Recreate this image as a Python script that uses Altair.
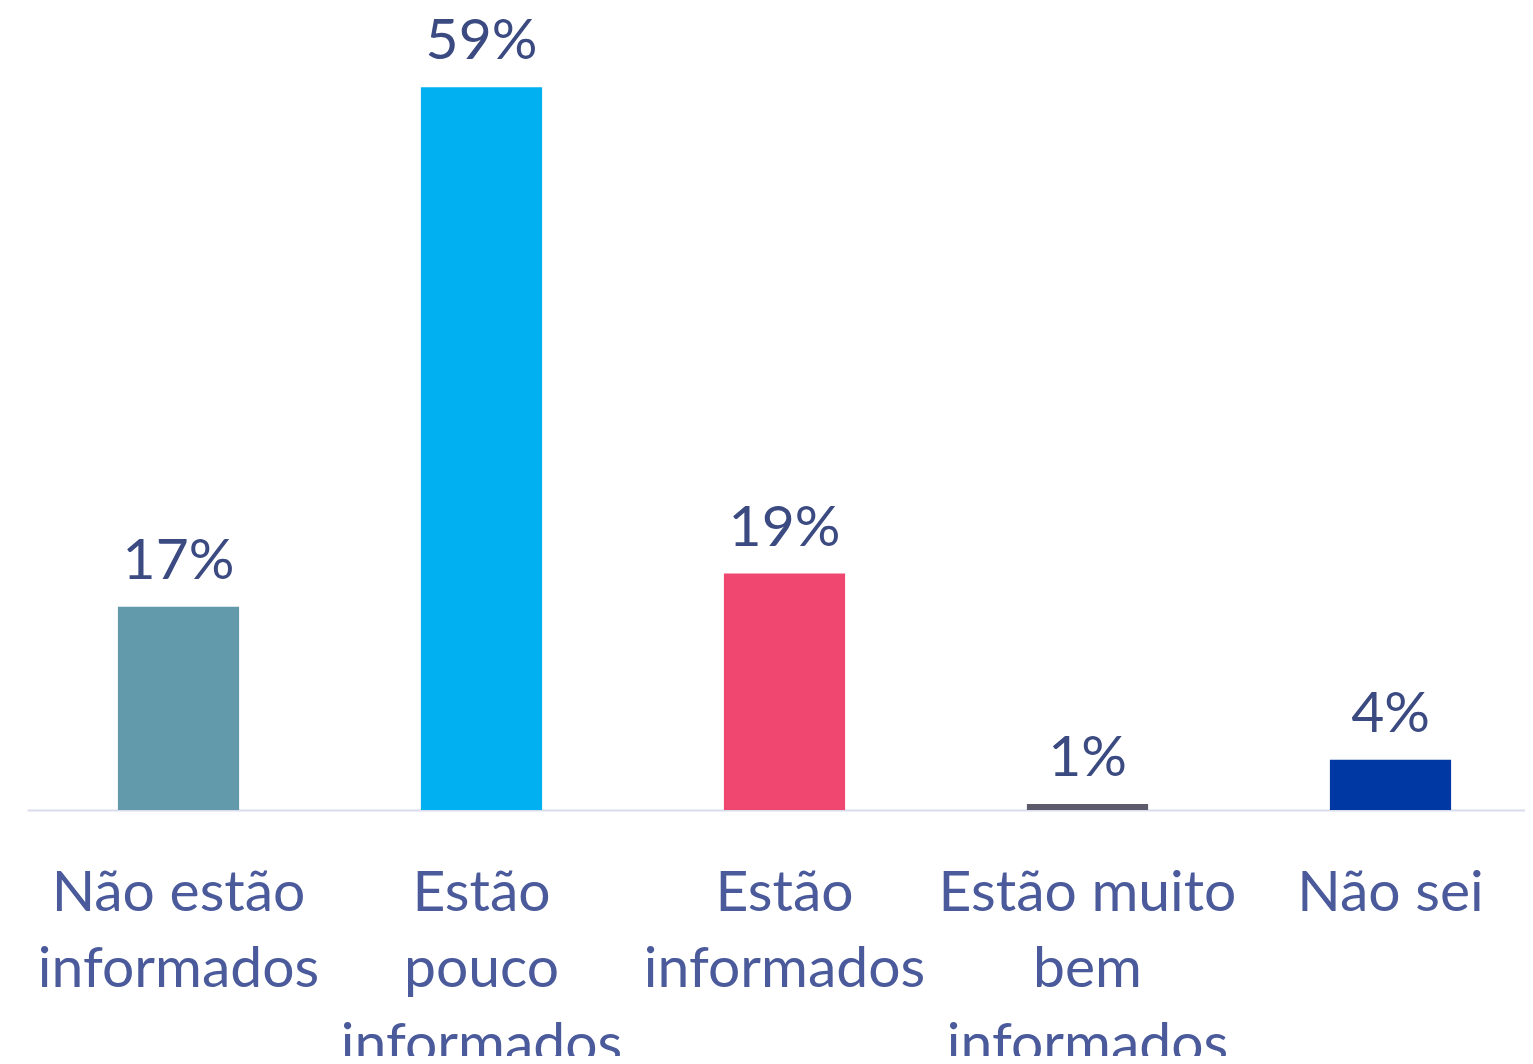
import altair as alt
import pandas as pd

categories = ["Não estão|informados", "Estão|pouco|informados", "Estão|informados",
              "Estão muito|bem|informados", "Não sei"]
values = [16.6, 59, 19.3, 0.5, 4.1]
labels = ["17%", "59%", "19%", "1%", "4%"]
colors = ["#639AAB", "#00B0F0", "#EF476F", "#5D5B6B", "#0038A3"]

df = pd.DataFrame({"cat": categories, "val": values, "lab": labels, "col": colors})

FONT = "Lato"

x = alt.X("cat:N", sort=categories, title=None,
          scale=alt.Scale(paddingInner=0.6, paddingOuter=0.3, range=[0, 1515]),
          axis=alt.Axis(labelAngle=0, labelExpr="split(datum.label, '|')",
                        labelFontSize=57, labelFont=FONT, labelColor="#4A5A9A",
                        labelLineHeight=76, labelPadding=55, labelBaseline="top",
                        ticks=False, domainColor="#D9DCEC", domainWidth=2,
                        labelLimit=400))
y = alt.Y("val:Q", scale=alt.Scale(domain=[0, 60], nice=False), axis=None)

bars = alt.Chart(df).mark_bar().encode(
    x=x, y=y, color=alt.Color("col:N", scale=None))
text = alt.Chart(df).mark_text(baseline="alphabetic", dy=-28, fontSize=57,
                               font=FONT, color="#3B4A80").encode(
    x=alt.X("cat:N", sort=categories), y="val:Q", text="lab:N")

chart = (bars + text).properties(
    width=1498, height=735,
    autosize=alt.AutoSizeParams(type="none"),
    padding={"left": 19, "top": 67, "right": 0, "bottom": 246},
).configure_view(stroke=None)

chart.save("out.html", embed_options={"renderer": "svg", "actions": False})
